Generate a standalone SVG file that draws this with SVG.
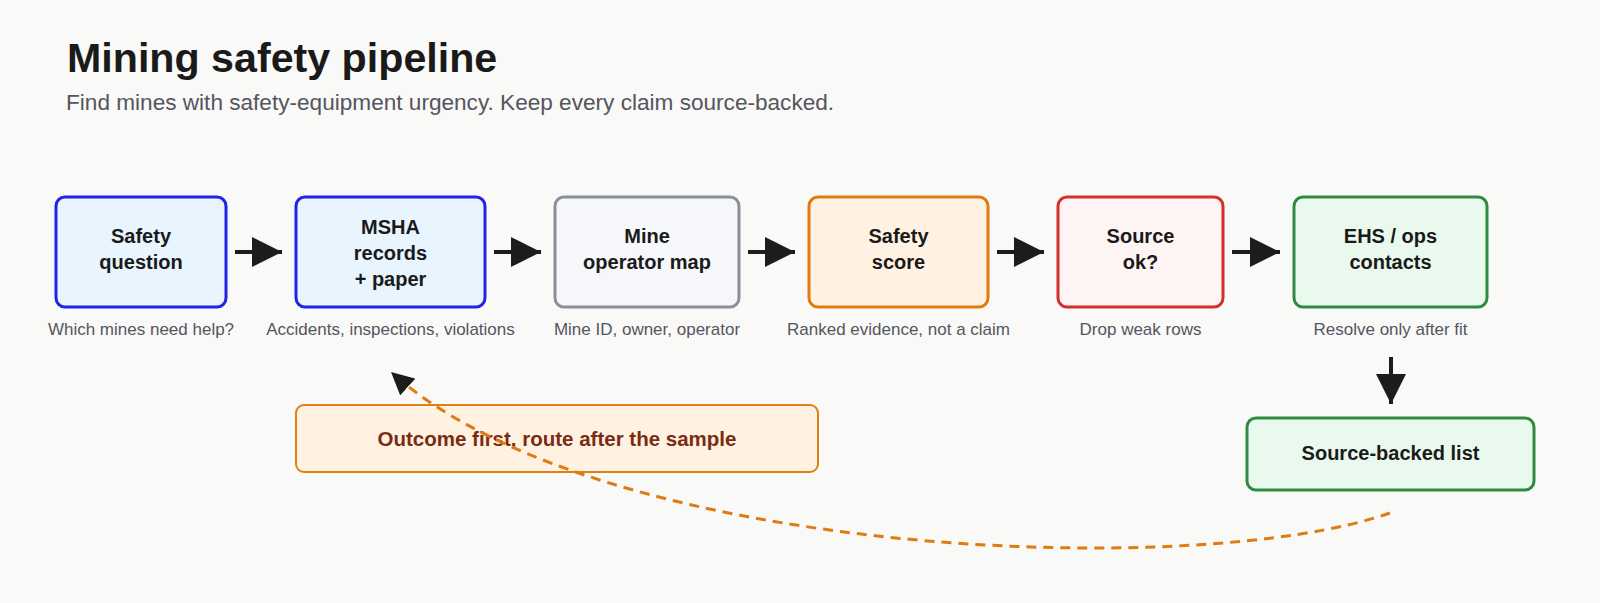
<svg xmlns="http://www.w3.org/2000/svg" width="1600" height="603" viewBox="0 0 1600 603">
  <defs>
    <style>
      .title { font-family: "Liberation Sans", Arial, sans-serif; font-size: 41.2px; font-weight: bold; fill: #1a1a1a; }
      .subtitle { font-family: "Liberation Sans", Arial, sans-serif; font-size: 22.6px; fill: #555560; }
      .nt { font-family: "Liberation Sans", Arial, sans-serif; font-size: 20px; font-weight: bold; fill: #1a1a1a; text-anchor: middle; }
      .sub { font-family: "Liberation Sans", Arial, sans-serif; font-size: 17px; fill: #555560; text-anchor: middle; }
      .ct { font-family: "Liberation Sans", Arial, sans-serif; font-size: 20.5px; font-weight: bold; fill: #7a2c12; text-anchor: middle; }
      .box { stroke-width: 3; }
      .blue { fill: #e8f4fe; stroke: #2323e8; }
      .gray { fill: #f5f7fa; stroke: #8a9099; }
      .orange { fill: #fff2e2; stroke: #e07b10; }
      .red { fill: #fff4f4; stroke: #d32f2f; }
      .green { fill: #eaf9ed; stroke: #2e8b40; }
      .flow { stroke: #1c1c1a; stroke-width: 4; fill: none; }
      .loop { stroke: #e07b10; stroke-width: 3; fill: none; stroke-dasharray: 10 7; }
    </style>
    <marker id="ah" markerUnits="strokeWidth" markerWidth="7.5" markerHeight="7.5" refX="7.5" refY="3.75" orient="auto">
      <path d="M0,0 L7.5,3.75 L0,7.5 z" fill="#1c1c1a"/>
    </marker>
  </defs>
  <rect width="1600" height="603" fill="#f9f9f7"/>

  <text class="title" x="67" y="72">Mining safety pipeline</text>
  <text class="subtitle" x="66" y="110">Find mines with safety-equipment urgency. Keep every claim source-backed.</text>

  <g id="n1">
    <rect class="box blue" x="56" y="197" width="170" height="110" rx="9"/>
    <text class="nt" x="141" y="242.5">Safety</text>
    <text class="nt" x="141" y="268.5">question</text>
    <text class="sub" x="141" y="335">Which mines need help?</text>
  </g>
  <g id="n2">
    <rect class="box blue" x="296" y="197" width="189" height="110" rx="9"/>
    <text class="nt" x="390.5" y="234">MSHA</text>
    <text class="nt" x="390.5" y="260">records</text>
    <text class="nt" x="390.5" y="286">+ paper</text>
    <text class="sub" x="390.5" y="335">Accidents, inspections, violations</text>
  </g>
  <g id="n3">
    <rect class="box gray" x="555" y="197" width="184" height="110" rx="9"/>
    <text class="nt" x="647" y="242.5">Mine</text>
    <text class="nt" x="647" y="268.5">operator map</text>
    <text class="sub" x="647" y="335">Mine ID, owner, operator</text>
  </g>
  <g id="n4">
    <rect class="box orange" x="809" y="197" width="179" height="110" rx="9"/>
    <text class="nt" x="898.5" y="242.5">Safety</text>
    <text class="nt" x="898.5" y="268.5">score</text>
    <text class="sub" x="898.5" y="335">Ranked evidence, not a claim</text>
  </g>
  <g id="n5">
    <rect class="box red" x="1058" y="197" width="165" height="110" rx="9"/>
    <text class="nt" x="1140.5" y="242.5">Source</text>
    <text class="nt" x="1140.5" y="268.5">ok?</text>
    <text class="sub" x="1140.5" y="335">Drop weak rows</text>
  </g>
  <g id="n6">
    <rect class="box green" x="1294" y="197" width="193" height="110" rx="9"/>
    <text class="nt" x="1390.5" y="242.5">EHS / ops</text>
    <text class="nt" x="1390.5" y="268.5">contacts</text>
    <text class="sub" x="1390.5" y="335">Resolve only after fit</text>
  </g>
  <g id="n7">
    <rect class="box green" x="1247" y="418" width="287" height="72" rx="9"/>
    <text class="nt" x="1390.5" y="460">Source-backed list</text>
  </g>
  <g id="callout">
    <rect x="296" y="405" width="522" height="67" rx="8" fill="#fff2e3" stroke="#e08010" stroke-width="2"/>
    <text class="ct" x="557" y="445.5">Outcome first, route after the sample</text>
  </g>

  <g id="connectors">
    <line class="flow" x1="235" y1="252" x2="282" y2="252" marker-end="url(#ah)"/>
    <line class="flow" x1="494" y1="252" x2="541" y2="252" marker-end="url(#ah)"/>
    <line class="flow" x1="748" y1="252" x2="795" y2="252" marker-end="url(#ah)"/>
    <line class="flow" x1="997" y1="252" x2="1044" y2="252" marker-end="url(#ah)"/>
    <line class="flow" x1="1232" y1="252" x2="1280" y2="252" marker-end="url(#ah)"/>
    <line class="flow" x1="1391" y1="357" x2="1391" y2="404" marker-end="url(#ah)"/>
    <path class="loop" d="M1390,513 C1200,580 600,560 391,372" marker-end="url(#ah)"/>
  </g>
</svg>
